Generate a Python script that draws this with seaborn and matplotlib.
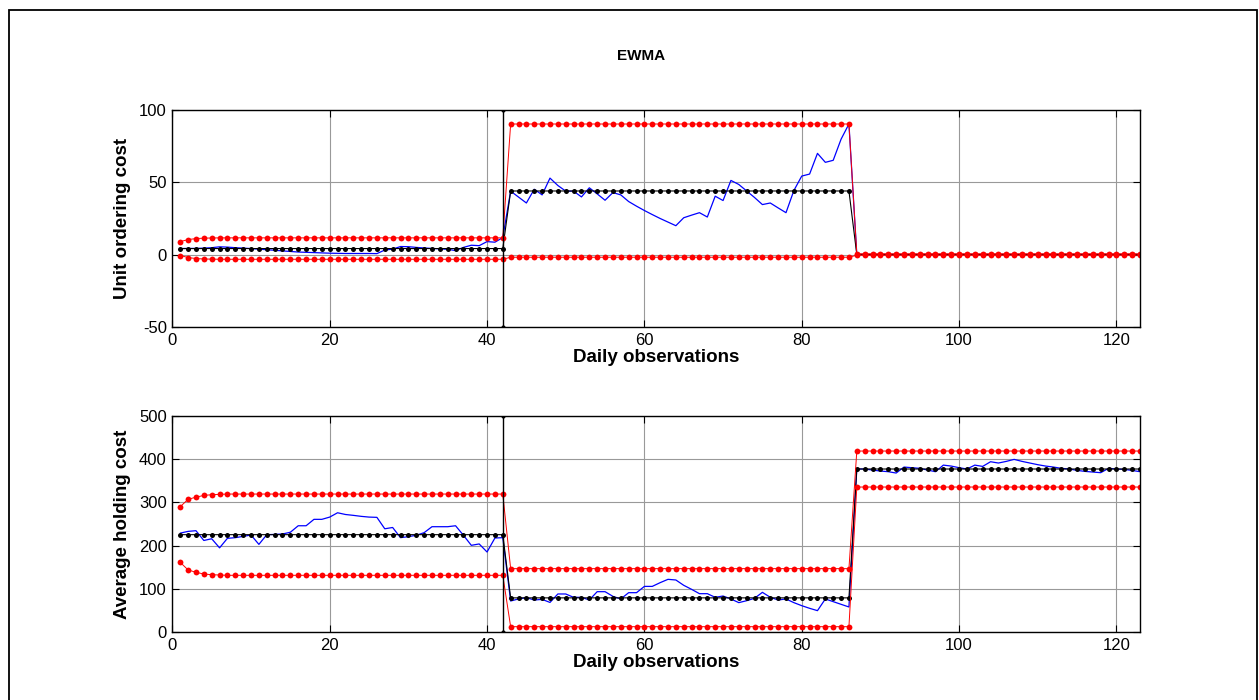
import matplotlib
matplotlib.use("Agg")
import matplotlib.pyplot as plt
from matplotlib.patches import Rectangle
import numpy as np
import seaborn as sns

sns.set_style("ticks")
plt.rcParams["font.family"] = ["Liberation Sans", "DejaVu Sans"]
plt.rcParams["axes.unicode_minus"] = False
plt.rcParams["text.color"] = "black"
plt.rcParams["axes.labelcolor"] = "black"

# daily observations 1..123, process shift after day 42
days = np.arange(1, 124)
shift_day = 42

# --- Unit ordering cost ---
order_ewma = [4.2, 4.3, 4.3, 4.5, 4.8, 5.4, 5.2, 4.8, 4.5, 4.2,
              3.8, 3.4, 3.0, 2.6, 2.2, 1.8, 1.6, 1.4, 1.2, 1.0,
              0.9, 0.8, 0.8, 0.8, 0.8, 0.7, 3.2, 3.8, 5.6, 5.5,
              5.0, 4.6, 4.3, 4.0, 3.7, 2.8, 5.0, 6.5, 6.2, 9.0,
              8.6, 11.8,
              43.9, 39.8, 35.7, 45.2, 41.3, 52.9, 47.8, 43.9, 43.9, 39.9,
              46.2, 42.0, 37.6, 42.9, 41.3, 36.7, 33.5, 30.5, 27.7, 25.0,
              22.5, 20.0, 25.5, 27.3, 29.0, 26.0, 40.4, 37.4, 51.3, 48.5,
              44.0, 39.5, 34.6, 35.7, 32.3, 29.0, 44.3, 54.3, 55.7, 70.0,
              63.8, 65.2, 79.8, 90.3] + [0.1] * 37
order_cl = [4.2] * 42 + [44.0] * 44 + [0.1] * 37
order_ucl = [9.0, 10.4, 11.1, 11.4, 11.5] + [11.6] * 37 + [90.3] * 44 + [0.6] * 37
order_lcl = [-0.6, -2.0, -2.7, -3.0, -3.1] + [-3.2] * 37 + [-1.8] * 44 + [-0.4] * 37

# --- Average holding cost ---
hold_ewma = [229, 233, 234.6, 212, 216, 195, 217, 218.5, 221.5, 224.6,
             203, 225.4, 226, 227, 231, 246, 246, 260.8, 260.8, 266,
             276, 272, 270, 267.7, 266, 265.4, 239, 242, 218.5, 220.8,
             224, 230, 243.8, 243.8, 243.8, 246, 224, 200.8, 204, 185.4,
             217.7, 218.5,
             72.3, 77, 80, 74.6, 76, 69, 88.5, 88.5, 80.8, 80.8,
             74.6, 93.8, 93.8, 83, 77, 91.5, 91.5, 106, 106, 114.6,
             122.3, 120.8, 108.5, 99.2, 89.2, 89.2, 80.8, 83.8, 77, 68.5,
             73, 78.5, 92.3, 80.8, 74.6, 77, 68.5, 61.5, 55.4, 50,
             77, 70.8, 64.6, 58.5,
             377, 377, 374.6, 372.3, 370.8, 367.7, 381.5, 380, 378.5, 374.6,
             370.8, 386, 383.8, 380, 377, 386, 383, 393.8, 390.8, 394.6,
             399.2, 394.6, 390.8, 387, 383.8, 381.5, 378.5, 377, 373.8, 371.5,
             370, 368.5, 378.5, 377, 376, 373.8, 370.8]
hold_cl = [225.4] * 42 + [79.5] * 44 + [377.0] * 37
hold_ucl = [290, 307, 312, 316, 317.7, 318.5] + [319.2] * 36 + [147] * 44 + [418.5] * 37
hold_lcl = [161.5, 144, 138.5, 134.6, 133, 132.3] + [131.6] * 36 + [13] * 44 + [335.4] * 37

panels = [
    ("Unit ordering cost", order_ewma, order_cl, order_ucl, order_lcl,
     (-50, 100), [-50, 0, 50, 100]),
    ("Average holding cost", hold_ewma, hold_cl, hold_ucl, hold_lcl,
     (0, 500), [0, 100, 200, 300, 400, 500]),
]

fig = plt.figure(figsize=(12.59, 7.0), dpi=100)
boxes = [[0.1369, 0.5329, 0.7686, 0.31], [0.1369, 0.0967, 0.7686, 0.3094]]

for box, (ylab, ewma, cl, ucl, lcl, ylim, yticks) in zip(boxes, panels):
    ax = fig.add_axes(box)
    sns.lineplot(x=days, y=ewma, ax=ax, color="blue", linewidth=0.9)
    sns.lineplot(x=days, y=cl, ax=ax, color="black", linewidth=0.8,
                 marker="o", markersize=3.6, markeredgewidth=0)
    for lim in (ucl, lcl):
        sns.lineplot(x=days, y=lim, ax=ax, color="red", linewidth=0.7,
                     marker="o", markersize=4.2, markeredgewidth=0)
    # vertical marker at the shift point
    sns.lineplot(x=[shift_day, shift_day], y=list(ylim), ax=ax, color="black",
                 linewidth=1.0, marker="o", markersize=3, markeredgewidth=0,
                 estimator=None, sort=False)

    ax.set_xlim(0, 123)
    ax.set_ylim(*ylim)
    ax.set_xticks([0, 20, 40, 60, 80, 100, 120])
    ax.set_yticks(yticks)
    ax.grid(True, color="0.6", linewidth=0.8)
    ax.tick_params(direction="in", top=True, right=True, length=5,
                   labelsize=12, pad=4, colors="black")
    for sp in ax.spines.values():
        sp.set_color("black")
        sp.set_linewidth(1.0)
    ax.set_xlabel("Daily observations", fontsize=13.5, fontweight="bold")
    ax.set_ylabel(ylab, fontsize=13.5, fontweight="bold")
    ax.xaxis.set_label_coords(0.5, -0.1)
    ax.yaxis.set_label_coords(-0.043, 0.5)

fig.text(0.509, 1 - 56 / 700, "EWMA", ha="center", va="center",
         fontsize=11, fontweight="bold")
fig.patches.append(Rectangle((9 / 1259, -0.01), 1248 / 1259, 1 - 10 / 700 + 0.01,
                             transform=fig.transFigure, fill=False,
                             edgecolor="black", linewidth=1.3))

fig.savefig("out.png", dpi=100)
